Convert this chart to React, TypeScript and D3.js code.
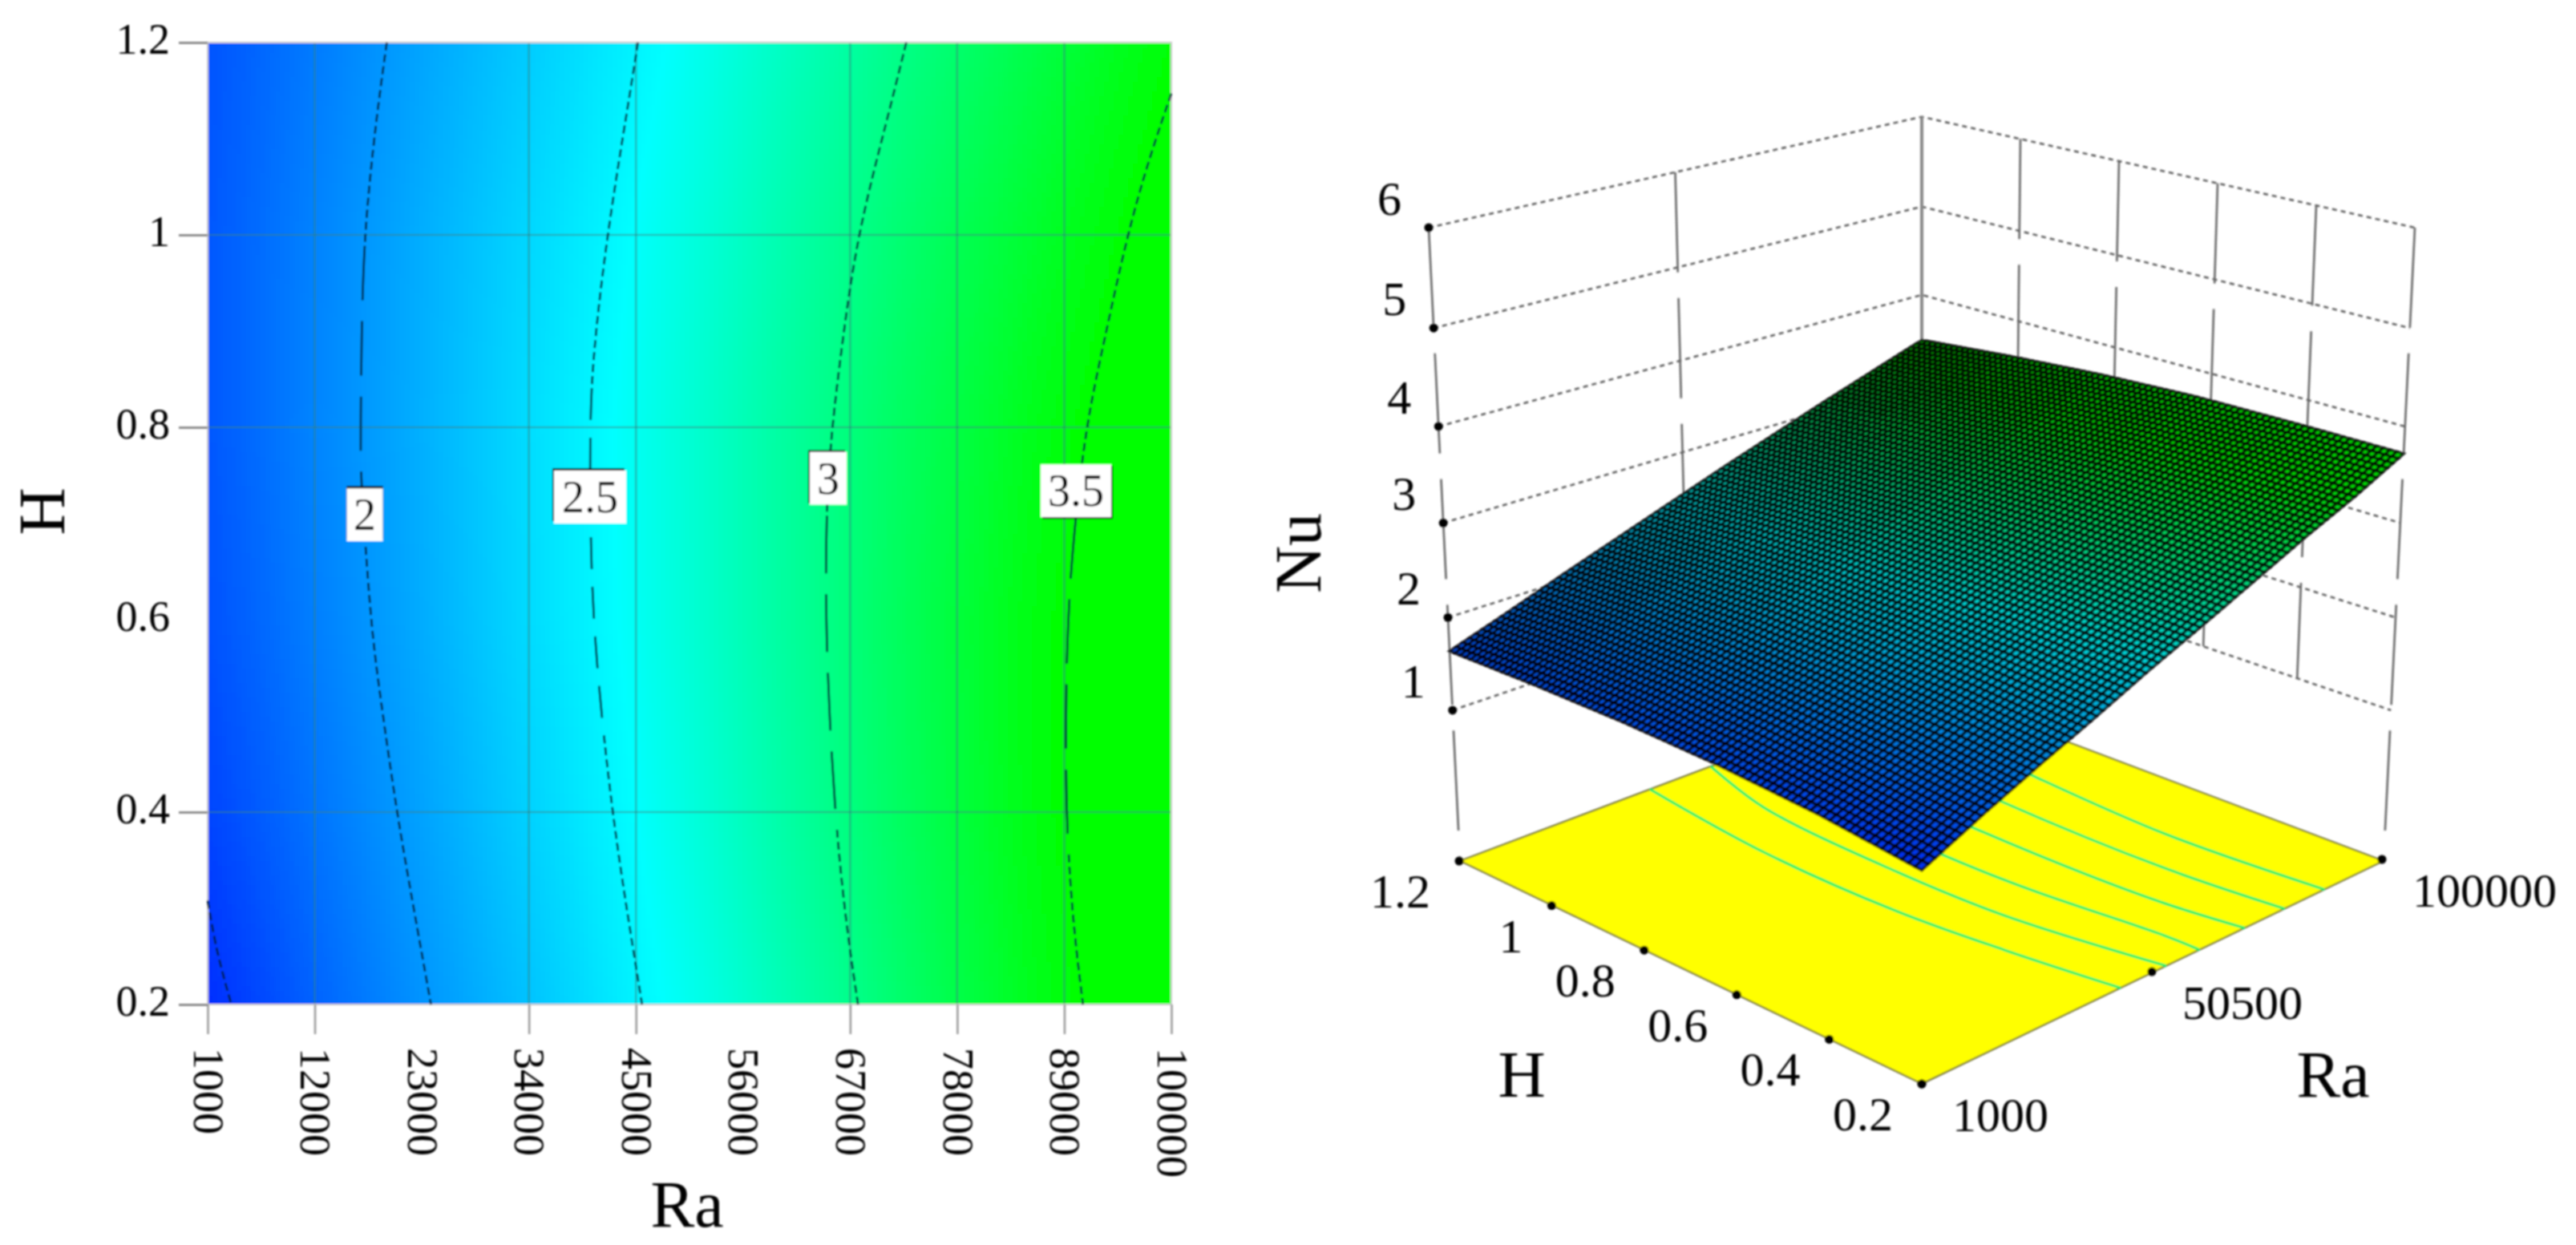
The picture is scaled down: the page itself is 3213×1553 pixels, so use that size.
import * as d3 from "d3";
import { useEffect, useRef } from "react";

const raTicks = [1000, 12000, 23000, 34000, 45000, 56000, 67000, 78000, 89000, 100000];
const hTicks = [0.2, 0.4, 0.6, 0.8, 1, 1.2];
const raGridTicks = [12000, 34000, 45000, 67000, 78000, 89000];
const hGridTicks = [0.4, 0.8, 1];
const nuTicks = [1, 2, 3, 4, 5, 6];
const floorRaTicks = [1000, 50500, 100000];
const wallHTicks = [0.4, 0.6, 0.8, 1];
const wallRaTicks = [50500];

// Nu, one row per H, one value per raTicks entry
const nuAtH02 = [1.44, 1.72, 1.98, 2.23, 2.49, 2.73, 2.98, 3.23, 3.46, 3.72];
const nuAtH04 = [1.56, 1.81, 2.06, 2.31, 2.55, 2.79, 3.03, 3.27, 3.5, 3.72];
const nuAtH06 = [1.63, 1.87, 2.11, 2.36, 2.59, 2.82, 3.05, 3.28, 3.5, 3.71];
const nuAtH08 = [1.66, 1.9, 2.13, 2.37, 2.6, 2.82, 3.04, 3.25, 3.46, 3.66];
const nuAtH10 = [1.66, 1.89, 2.12, 2.34, 2.56, 2.77, 2.98, 3.19, 3.38, 3.58];
const nuAtH12 = [1.64, 1.85, 2.07, 2.28, 2.49, 2.7, 2.9, 3.1, 3.29, 3.48];
const nuRows = [nuAtH02, nuAtH04, nuAtH06, nuAtH08, nuAtH10, nuAtH12];

// contour lines as [Ra, H]
const contour15 = [[1000, 0.308], [1925, 0.254], [3437, 0.2]];
const contour2 = [[19405, 1.2], [18312, 1.121], [17052, 1], [16800, 0.89], [16716, 0.8], [16716, 0.75], [17220, 0.675], [17892, 0.585], [18733, 0.52], [20414, 0.4], [22094, 0.304], [23943, 0.2]];
const contour25 = [[45205, 1.2], [44366, 1.146], [42012, 1], [40583, 0.875], [40247, 0.8], [40331, 0.668], [40836, 0.561], [42517, 0.4], [44366, 0.279], [45627, 0.2]];
const contour3 = [[72770, 1.2], [70837, 1.121], [67730, 1], [66216, 0.89], [65124, 0.8], [64535, 0.717], [64451, 0.585], [65376, 0.4], [66637, 0.279], [67813, 0.2]];
const contour35 = [[100000, 1.147], [97731, 1.08], [95462, 1], [93108, 0.89], [91176, 0.8], [89916, 0.684], [89244, 0.585], [89076, 0.42], [89748, 0.296], [90924, 0.2]];
const contours = [contour15, contour2, contour25, contour3, contour35];

const labelTexts = ["2", "2.5", "3", "3.5"];
const labelRa = [17143, 40287, 64750, 90200];
const labelH = [0.709, 0.7275, 0.747, 0.734];

// contours on the floor of the 3D plot
const floorA = [[40450, 0.2], [37530, 0.4], [35550, 0.6], [35700, 0.894], [39000, 1.2]];
const floorB = [[50150, 0.2], [45700, 0.4785], [45100, 0.697], [47000, 1.019], [51900, 1.2]];
const floorC = [[57400, 0.2], [57300, 0.266], [54800, 0.511], [54300, 0.69], [56000, 1]];
const floorD = [[67400, 0.2], [65400, 0.338], [64600, 0.49], [64700, 0.728], [66000, 1]];
const floorE = [[76500, 0.2], [74600, 0.42], [75000, 0.767], [77000, 1]];
const floorF = [[85800, 0.2], [84000, 0.503], [85900, 0.805], [88000, 1]];
const floorContours = [floorA, floorB, floorC, floorD, floorE, floorF];

const serif = "'Liberation Serif'";

// short dashes, then a stretch of long ones, then short again
const dashes = (before: number, during: number, long: number, gap: number) => {
    const out: number[] = [];
    for (let i = 0; i < before / 15; i++) out.push(10, 5);
    for (let i = 0; i < during / (long + gap); i++) out.push(long, gap);
    for (let i = 0; i < 120; i++) out.push(10, 5);
    return out.join(" ");
};

export default function App() {
    const ref = useRef<SVGSVGElement | null>(null);

    useEffect(() => {
        if (!ref.current) return;
        const svg = d3.select(ref.current);
        svg.selectAll("*").remove();

        svg.append("defs").append("filter")
            .attr("id", "soft")
            .attr("filterUnits", "userSpaceOnUse")
            .attr("x", 0).attr("y", 0).attr("width", 3213).attr("height", 1553)
            .append("feGaussianBlur").attr("stdDeviation", 0.9);
        const root = svg.append("g").attr("filter", "url(#soft)");

        const x = d3.scaleLinear().domain([1000, 100000]).range([259, 1461]);
        const y = d3.scaleLinear().domain([0.2, 1.2]).range([1253, 53]);
        const color = d3.scaleLinear<string>()
            .domain([1.2, 2.55, 3.5])
            .range(["#0000ff", "#00ffff", "#00ff00"])
            .clamp(true);

        const nuAt = (ra: number, h: number) => {
            const i = Math.min(d3.bisectRight(raTicks, ra) - 1, raTicks.length - 2);
            const j = Math.min(d3.bisectRight(hTicks, h + 1e-9) - 1, hTicks.length - 2);
            const a = (ra - raTicks[i]) / (raTicks[i + 1] - raTicks[i]);
            const b = (h - hTicks[j]) / (hTicks[j + 1] - hTicks[j]);
            const lo = nuRows[j][i] * (1 - a) + nuRows[j][i + 1] * a;
            const hi = nuRows[j + 1][i] * (1 - a) + nuRows[j + 1][i + 1] * a;
            return lo * (1 - b) + hi * b;
        };

        // left: contour plot
        const left = root.append("g");
        const raSteps = d3.range(0, 200).map((i) => 1000 + i * 495);
        const hSteps = d3.range(0, 200).map((i) => 0.2 + i * 0.005);
        const cellW = x(1495) - x(1000);
        const cellH = y(0.2) - y(0.205);
        left.append("g")
            .attr("shape-rendering", "crispEdges")
            .selectAll("rect")
            .data(d3.cross(raSteps, hSteps))
            .join("rect")
            .attr("x", (d) => x(d[0]))
            .attr("y", (d) => y(d[1]) - cellH)
            .attr("width", cellW + 0.6)
            .attr("height", cellH + 0.6)
            .attr("fill", (d) => color(nuAt(d[0] + 247, d[1] + 0.0025)));

        // grid
        left.append("g").selectAll("line").data(raGridTicks).join("line")
            .attr("x1", (d) => x(d)).attr("x2", (d) => x(d))
            .attr("y1", y(1.2)).attr("y2", y(0.2))
            .attr("stroke", "#308080").attr("stroke-opacity", 0.6).attr("stroke-width", 2.2);
        left.append("g").selectAll("line").data(hGridTicks).join("line")
            .attr("y1", (d) => y(d)).attr("y2", (d) => y(d))
            .attr("x1", x(1000)).attr("x2", x(100000))
            .attr("stroke", "#308080").attr("stroke-opacity", 0.6).attr("stroke-width", 2.2);
        left.append("rect")
            .attr("x", x(1000)).attr("y", y(1.2))
            .attr("width", x(100000) - x(1000)).attr("height", y(0.2) - y(1.2))
            .attr("fill", "none").attr("stroke", "#ccc").attr("stroke-width", 2);

        // axes
        const bottomAxis = left.append("g")
            .attr("transform", `translate(0,${y(0.2)})`)
            .call(d3.axisBottom(x).tickValues(raTicks).tickFormat(d3.format("d")).tickSize(37));
        bottomAxis.select(".domain").remove();
        bottomAxis.selectAll(".tick line")
            .attr("stroke", "#999").attr("stroke-width", 2.5)
            .attr("stroke-opacity", (d: any) => (raGridTicks.includes(d) || d === 1000 || d === 100000 ? 1 : 0));
        bottomAxis.selectAll("text")
            .attr("transform", "rotate(90)")
            .attr("x", 54).attr("y", 0).attr("dy", "0.33em")
            .attr("text-anchor", "start")
            .attr("font-family", serif).attr("font-size", 54).attr("fill", "#000");

        const leftAxis = left.append("g")
            .attr("transform", `translate(${x(1000)},0)`)
            .call(d3.axisLeft(y).tickValues(hTicks).tickFormat((d) => String(d)).tickSize(36).tickPadding(11));
        leftAxis.select(".domain").remove();
        leftAxis.selectAll(".tick line")
            .attr("stroke", "#777").attr("stroke-width", 2.5)
            .attr("stroke-opacity", (d: any) => (d === 0.6 ? 0 : 1));
        leftAxis.selectAll("text")
            .attr("dy", "0.25em")
            .attr("font-family", serif).attr("font-size", 54).attr("fill", "#000");

        // contours
        const contourLine = d3.line<number[]>()
            .x((d) => x(d[0])).y((d) => y(d[1]))
            .curve(d3.curveBasis);
        const contourDash = [
            dashes(0, 0, 10, 5),
            dashes(255, 330, 68, 26),
            dashes(430, 430, 40, 22),
            dashes(595, 370, 72, 26),
            dashes(530, 380, 80, 26),
        ];
        left.append("g").selectAll("path").data(contours).join("path")
            .attr("d", (d) => contourLine(d))
            .attr("fill", "none").attr("stroke", "#03203a").attr("stroke-width", 2.6)
            .attr("stroke-dasharray", (_, i) => contourDash[i]);

        // contour labels
        const boxW = [45, 90, 46, 88];
        const shadowX = [0, -2, -2, 2];
        const shadowY = [-3, -3, -2, 2];
        labelTexts.forEach((t, i) => {
            const cx = x(labelRa[i]);
            const cy = y(labelH[i]);
            left.append("rect")
                .attr("x", cx - boxW[i] / 2 + shadowX[i]).attr("y", cy - 33 + shadowY[i])
                .attr("width", boxW[i]).attr("height", 66).attr("fill", "#111");
            left.append("rect")
                .attr("x", cx - boxW[i] / 2).attr("y", cy - 33)
                .attr("width", boxW[i]).attr("height", 66).attr("fill", "#fff");
            left.append("text")
                .attr("x", cx).attr("y", cy + 19)
                .attr("text-anchor", "middle")
                .attr("font-family", serif).attr("font-size", 56).attr("fill", "#000")
                .text(t);
        });

        left.append("text")
            .attr("x", 857).attr("y", 1530)
            .attr("text-anchor", "middle")
            .attr("font-family", serif).attr("font-size", 82).attr("fill", "#000")
            .text("Ra");
        left.append("text")
            .attr("transform", "translate(80,638) rotate(-90)")
            .attr("text-anchor", "middle")
            .attr("font-family", serif).attr("font-size", 82).attr("fill", "#000")
            .text("H");

        // right: 3D surface
        const right = root.append("g");
        const uScale = d3.scaleLinear().domain([1000, 100000]).range([0, 1]);
        const vScale = d3.scaleLinear().domain([0.2, 1.2]).range([0, 1]);
        const wScale = d3.scaleLinear().domain([-2 / 3, 6]).range([0, 1]);
        const project = (ra: number, h: number, nu: number): [number, number] => {
            const u = uScale(ra);
            const v = vScale(h);
            const w = wScale(nu);
            const dd = 1 + 0.1405 * (u + v) - 0.0724 * w;
            return [2397 + (656.9 * (u - v)) / dd, (1352 - 127.2 * (u + v) - 921.5 * w) / dd];
        };
        const floorNu = -2 / 3;
        const lerp = (a: [number, number], b: [number, number], t: number) => [a[0] + (b[0] - a[0]) * t, a[1] + (b[1] - a[1]) * t];

        const wall = right.append("g").attr("fill", "none");

        // level lines on the back walls
        nuTicks.forEach((n) => {
            const pts = [project(1000, 1.2, n), project(100000, 1.2, n), project(100000, 0.2, n)];
            wall.append("path")
                .attr("d", d3.line()(pts))
                .attr("stroke", "#555").attr("stroke-width", 2.4).attr("stroke-dasharray", "6 5");
        });

        // verticals
        const vertical = (a: [number, number], b: [number, number]) =>
            wall.append("line")
                .attr("x1", a[0]).attr("y1", a[1]).attr("x2", b[0]).attr("y2", b[1])
                .attr("stroke", "#666").attr("stroke-width", 2.6).attr("stroke-dasharray", "125 32");
        vertical(project(1000, 1.2, 6), project(1000, 1.2, floorNu));
        vertical(project(100000, 0.2, 6), project(100000, 0.2, floorNu));
        wallHTicks.forEach((h) => {
            const t = vScale(h);
            vertical(
                lerp(project(100000, 0.2, 6), project(100000, 1.2, 6), t) as [number, number],
                lerp(project(100000, 0.2, 1), project(100000, 1.2, 1), t) as [number, number]
            );
        });
        wallRaTicks.forEach((ra) => {
            const t = uScale(ra);
            vertical(
                lerp(project(1000, 1.2, 6), project(100000, 1.2, 6), t) as [number, number],
                lerp(project(1000, 1.2, 1), project(100000, 1.2, 1), t) as [number, number]
            );
        });
        const backTop = project(100000, 1.2, 6);
        const backBottom = project(100000, 1.2, floorNu);
        wall.append("line")
            .attr("x1", backTop[0]).attr("y1", backTop[1]).attr("x2", backBottom[0]).attr("y2", backBottom[1])
            .attr("stroke", "#888").attr("stroke-width", 4);

        // floor
        const floorCorners = [
            project(1000, 0.2, floorNu),
            project(100000, 0.2, floorNu),
            project(100000, 1.2, floorNu),
            project(1000, 1.2, floorNu),
        ];
        right.append("path")
            .attr("d", d3.line()(floorCorners) + "Z")
            .attr("fill", "#ffff00").attr("stroke", "#6b6b30").attr("stroke-width", 2);
        const floorLine = d3.line<number[]>()
            .x((d) => project(d[0], d[1], floorNu)[0])
            .y((d) => project(d[0], d[1], floorNu)[1])
            .curve(d3.curveCatmullRom);
        right.append("g").selectAll("path").data(floorContours).join("path")
            .attr("d", (d) => floorLine(d))
            .attr("fill", "none").attr("stroke", "#00f070").attr("stroke-width", 3.2);

        // surface mesh, back to front
        const n = 80;
        const meshRa = d3.range(n).map((i) => 1000 + (i * 99000) / n).reverse();
        const meshH = d3.range(n).map((i) => 0.2 + i / n).reverse();
        const dRa = 99000 / n;
        const dH = 1 / n;
        const surfaceColor = d3.scaleLinear<string>()
            .domain([1.2, 2.55, 3.5])
            .range(["#0008f0", "#00d8d8", "#00e000"])
            .clamp(true);
        right.append("g")
            .selectAll("path")
            .data(d3.cross(meshRa, meshH))
            .join("path")
            .attr("d", ([ra, h]) =>
                d3.line()([
                    project(ra, h, nuAt(ra, h)),
                    project(ra + dRa, h, nuAt(Math.min(ra + dRa, 100000), h)),
                    project(ra + dRa, h + dH, nuAt(Math.min(ra + dRa, 100000), Math.min(h + dH, 1.2))),
                    project(ra, h + dH, nuAt(ra, Math.min(h + dH, 1.2))),
                ]) + "Z"
            )
            .attr("fill", ([ra, h]) => surfaceColor(nuAt(ra + dRa / 2, h + dH / 2)))
            .attr("stroke", "#000")
            .attr("stroke-opacity", 0.8)
            .attr("stroke-width", 3.6);

        // axis dots and labels
        const dot = (p: number[]) =>
            right.append("circle").attr("cx", p[0]).attr("cy", p[1]).attr("r", 5.5).attr("fill", "#000");
        const label = (px: number, py: number, t: string, anchor: string) =>
            right.append("text")
                .attr("x", px).attr("y", py)
                .attr("text-anchor", anchor)
                .attr("font-family", serif).attr("font-size", 60).attr("fill", "#000")
                .text(t);

        nuTicks.forEach((nu) => {
            const p = project(1000, 1.2, nu);
            dot(p);
            label(p[0] - 49, p[1] - 16, String(nu), "middle");
        });

        const floorHx = d3.scaleLinear().domain([0.2, 1.2]).range([2397, 1820]);
        const floorHy = d3.scaleLinear().domain([0.2, 1.2]).range([1352, 1074]);
        hTicks.forEach((h) => {
            const p = [floorHx(h), floorHy(h)];
            dot(p);
            label(p[0] - 36, p[1] + 58, String(h), "end");
        });

        const floorRaX = d3.scaleLinear().domain([1000, 100000]).range([2397, 2971]);
        const floorRaY = d3.scaleLinear().domain([1000, 100000]).range([1352, 1072]);
        floorRaTicks.forEach((ra) => {
            const p = [floorRaX(ra), floorRaY(ra)];
            dot(p);
            label(p[0] + 38, p[1] + 59, String(ra), "start");
        });

        right.append("text")
            .attr("transform", "translate(1647,690) rotate(-90)")
            .attr("text-anchor", "middle")
            .attr("font-family", serif).attr("font-size", 82).attr("fill", "#000")
            .text("Nu");
        right.append("text")
            .attr("x", 1898).attr("y", 1368)
            .attr("text-anchor", "middle")
            .attr("font-family", serif).attr("font-size", 82).attr("fill", "#000")
            .text("H");
        right.append("text")
            .attr("x", 2910).attr("y", 1368)
            .attr("text-anchor", "middle")
            .attr("font-family", serif).attr("font-size", 82).attr("fill", "#000")
            .text("Ra");
    }, []);

    return (
        <svg
            ref={ref}
            width={3213}
            height={1553}
            style={{ position: "absolute", left: 0, top: 0, background: "#fff" }}
        ></svg>
    );
}
